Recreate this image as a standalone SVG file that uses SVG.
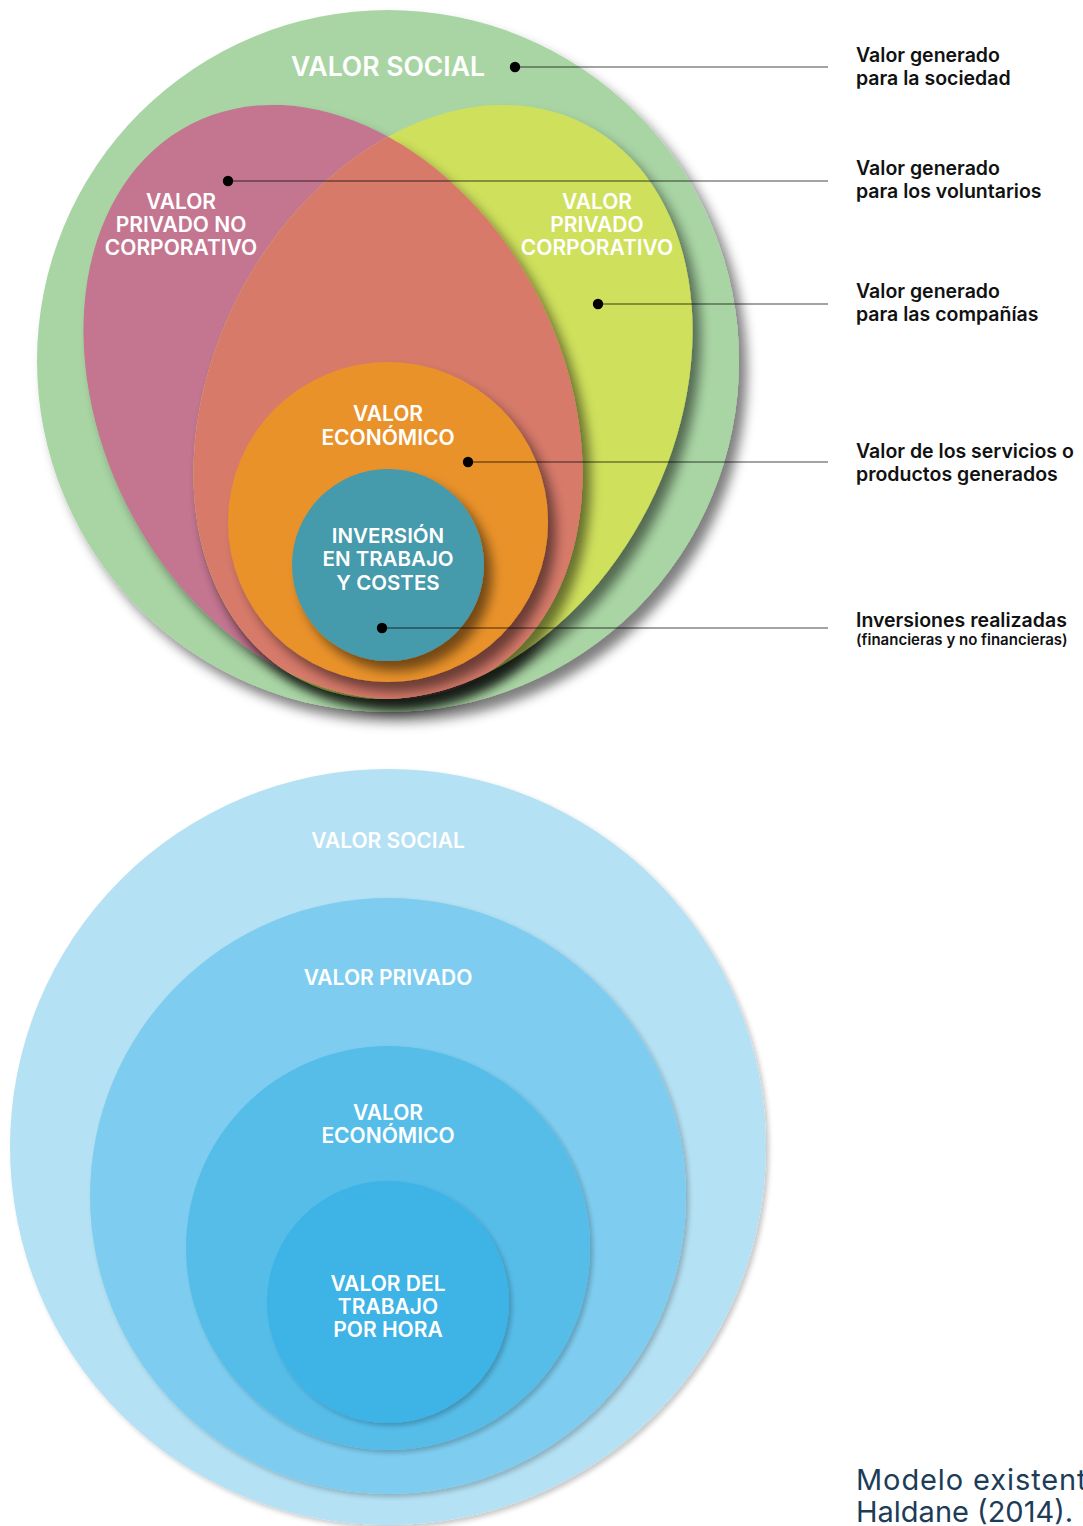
<svg xmlns="http://www.w3.org/2000/svg" width="1083" height="1526" viewBox="0 0 1083 1526">
<style>
.lbl{font-family:Inter,"Noto Sans","Liberation Sans",sans-serif;font-weight:600;fill:#ffffff;text-anchor:middle}
.side{font-family:Inter,"Noto Sans","Liberation Sans",sans-serif;font-weight:600;fill:#111111;font-size:19.5px}
.small{font-size:15px}
.cap{font-family:Inter,"Noto Sans","Liberation Sans",sans-serif;font-weight:400;fill:#1c3c57;font-size:29px}
.lead{stroke:#000;stroke-opacity:0.72;stroke-width:1.1;fill:none}
.dot{fill:#000}
</style>
<defs>
<filter id="sh" x="-20%" y="-20%" width="150%" height="150%">
<feGaussianBlur in="SourceAlpha" stdDeviation="6"/>
<feOffset dx="8" dy="10" result="b"/>
<feFlood flood-color="#000" flood-opacity="0.5"/>
<feComposite in2="b" operator="in"/>
<feMerge><feMergeNode/><feMergeNode in="SourceGraphic"/></feMerge>
</filter>
<filter id="shb" x="-20%" y="-20%" width="150%" height="150%">
<feGaussianBlur in="SourceAlpha" stdDeviation="2.5"/>
<feOffset dx="3" dy="3" result="b"/>
<feFlood flood-color="#000" flood-opacity="0.22"/>
<feComposite in2="b" operator="in"/>
<feMerge><feMergeNode/><feMergeNode in="SourceGraphic"/></feMerge>
</filter>
<clipPath id="clipY" clipPathUnits="userSpaceOnUse">
<ellipse cx="443" cy="402" rx="230.6" ry="312" transform="rotate(27 443 402)"/>
</clipPath>
</defs>

<g id="top-diagram">
<g id="node-valor-social" filter="url(#sh)">
<circle cx="388" cy="361" r="351" fill="#a9d5a4"/>
</g>
<g id="node-privado-no-corporativo" filter="url(#sh)">
<ellipse cx="333" cy="402" rx="230.6" ry="312" transform="rotate(-27 333 402)" fill="#c47490"/>
</g>
<g id="node-privado-corporativo" filter="url(#sh)">
<ellipse cx="443" cy="402" rx="230.6" ry="312" transform="rotate(27 443 402)" fill="#cfe05c"/>
</g>
<g id="node-overlap" filter="url(#sh)">
<g clip-path="url(#clipY)">
<ellipse cx="333" cy="402" rx="230.6" ry="312" transform="rotate(-27 333 402)" fill="#d77a6a"/>
</g>
</g>
<g id="node-valor-economico" filter="url(#sh)">
<circle cx="388" cy="522" r="160" fill="#e9922c"/>
</g>
<g id="node-inversion" filter="url(#sh)">
<circle cx="388" cy="565" r="96" fill="#459aab"/>
</g>

<g id="top-labels">
<text class="lbl" x="388" y="76" font-size="26.5">VALOR SOCIAL</text>
<text class="lbl" x="181" font-size="21"><tspan x="181" y="209">VALOR</tspan><tspan x="181" y="232">PRIVADO NO</tspan><tspan x="181" y="255">CORPORATIVO</tspan></text>
<text class="lbl" x="597" font-size="21"><tspan x="597" y="209">VALOR</tspan><tspan x="597" y="232">PRIVADO</tspan><tspan x="597" y="255">CORPORATIVO</tspan></text>
<text class="lbl" x="388" font-size="21"><tspan x="388" y="421">VALOR</tspan><tspan x="388" y="445">ECONÓMICO</tspan></text>
<text class="lbl" x="388" font-size="20.5"><tspan x="388" y="543">INVERSIÓN</tspan><tspan x="388" y="566">EN TRABAJO</tspan><tspan x="388" y="590">Y COSTES</tspan></text>
</g>

<g id="connectors">
<line class="lead" x1="515" y1="67" x2="828" y2="67"/>
<line class="lead" x1="228" y1="181" x2="828" y2="181"/>
<line class="lead" x1="598" y1="304" x2="828" y2="304"/>
<line class="lead" x1="468" y1="462" x2="828" y2="462"/>
<line class="lead" x1="382" y1="628" x2="828" y2="628"/>
<circle class="dot" cx="515" cy="67" r="5.2"/>
<circle class="dot" cx="228" cy="181" r="5.2"/>
<circle class="dot" cx="598" cy="304" r="5.2"/>
<circle class="dot" cx="468" cy="462" r="5.2"/>
<circle class="dot" cx="382" cy="628" r="5.2"/>
</g>

<g id="side-labels">
<text class="side"><tspan x="856" y="62">Valor generado</tspan><tspan x="856" y="85">para la sociedad</tspan></text>
<text class="side"><tspan x="856" y="175">Valor generado</tspan><tspan x="856" y="198">para los voluntarios</tspan></text>
<text class="side"><tspan x="856" y="298">Valor generado</tspan><tspan x="856" y="321">para las compañías</tspan></text>
<text class="side"><tspan x="856" y="458">Valor de los servicios o</tspan><tspan x="856" y="481">productos generados</tspan></text>
<text class="side"><tspan x="856" y="627">Inversiones realizadas</tspan><tspan class="small" x="856" y="645">(financieras y no financieras)</tspan></text>
</g>
</g>

<g id="bottom-diagram">
<g id="node-b-social" filter="url(#shb)"><circle cx="388" cy="1147" r="378" fill="#b4e1f4"/></g>
<g id="node-b-privado" filter="url(#shb)"><circle cx="388" cy="1196" r="298" fill="#7ecdf0"/></g>
<g id="node-b-economico" filter="url(#shb)"><circle cx="388" cy="1248" r="202" fill="#56bde9"/></g>
<g id="node-b-trabajo" filter="url(#shb)"><circle cx="388" cy="1302" r="121" fill="#3db3e6"/></g>
<g id="bottom-labels">
<text class="lbl" x="388" y="848" font-size="21">VALOR SOCIAL</text>
<text class="lbl" x="388" y="985" font-size="21">VALOR PRIVADO</text>
<text class="lbl" x="388" font-size="21"><tspan x="388" y="1120">VALOR</tspan><tspan x="388" y="1143">ECONÓMICO</tspan></text>
<text class="lbl" x="388" font-size="21"><tspan x="388" y="1291">VALOR DEL</tspan><tspan x="388" y="1314">TRABAJO</tspan><tspan x="388" y="1337">POR HORA</tspan></text>
</g>
</g>

<g id="caption">
<text class="cap"><tspan x="856" y="1490" letter-spacing="0.9">Modelo existent</tspan><tspan x="856" y="1522">Haldane (2014).</tspan></text>
</g>
</svg>
